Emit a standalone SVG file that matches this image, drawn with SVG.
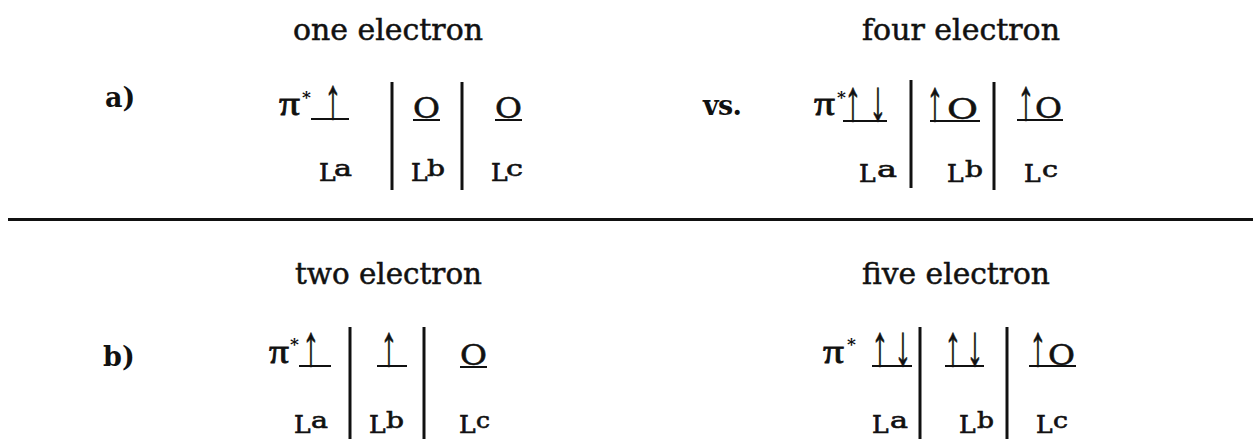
<svg xmlns="http://www.w3.org/2000/svg" width="1253" height="439" viewBox="0 0 1253 439">
<style>
text{font-family:"DejaVu Serif","Liberation Serif",serif;fill:#111}
.t{font-size:29px;stroke:#111;stroke-width:0.5}
.lab{font-size:27px;font-weight:bold}
.pi{font-family:"Liberation Serif","DejaVu Serif",serif;font-size:34px;stroke:#111;stroke-width:0.8}
.st{font-size:17px;font-weight:bold}
.L{font-size:25px;stroke:#111;stroke-width:0.7}
.sup{font-size:22px;stroke:#111;stroke-width:0.6}
.ar{font-family:"Liberation Serif","DejaVu Serif",serif;font-size:34px;text-anchor:middle;stroke:#111;stroke-width:0.4}
.o{font-size:27px;stroke:#111;stroke-width:0.5}
.ul{stroke:#111;stroke-width:2}
.bar{stroke:#111;stroke-width:3}
</style>
<rect width="1253" height="439" fill="#fff"/>
<g id="rule"><line class="bar" x1="8" y1="219.5" x2="1253" y2="219.5"/></g>
<g id="labels">
<text class="lab" x="105" y="107">a)</text>
<text class="lab" x="103" y="366">b)</text>
<text class="lab" x="703" y="115" textLength="39">vs.</text>
</g>
<g id="one-electron">
<text class="t" x="293" y="40" textLength="190" lengthAdjust="spacingAndGlyphs">one electron</text>
<text class="pi" x="279" y="115" textLength="21" lengthAdjust="spacingAndGlyphs">π</text>
<text class="st" x="302" y="103">*</text>
<line class="ul" x1="311" y1="119" x2="349" y2="119"/>
<text class="ar" transform="translate(333,118) scale(1,1.7)">↑</text>
<line class="bar" x1="392" y1="82" x2="392" y2="190"/>
<text class="o" x="413" y="118" textLength="27" lengthAdjust="spacingAndGlyphs">O</text>
<line class="ul" x1="413" y1="120" x2="440" y2="120"/>
<line class="bar" x1="462" y1="82" x2="462" y2="190"/>
<text class="o" x="495" y="118" textLength="27" lengthAdjust="spacingAndGlyphs">O</text>
<line class="ul" x1="495" y1="120" x2="522" y2="120"/>
<text class="L" x="319" y="181">L</text><text class="sup" x="334" y="176" textLength="18" lengthAdjust="spacingAndGlyphs">a</text>
<text class="L" x="411" y="181">L</text><text class="sup" x="427" y="176" textLength="18" lengthAdjust="spacingAndGlyphs">b</text>
<text class="L" x="491" y="181">L</text><text class="sup" x="506" y="176" textLength="17" lengthAdjust="spacingAndGlyphs">c</text>
</g>
<g id="four-electron">
<text class="t" x="862" y="40" textLength="198" lengthAdjust="spacingAndGlyphs">four electron</text>
<text class="pi" x="814" y="115" textLength="21" lengthAdjust="spacingAndGlyphs">π</text>
<text class="st" x="837" y="103">*</text>
<line class="ul" x1="843" y1="121" x2="887" y2="121"/>
<text class="ar" transform="translate(853,120) scale(1,1.7)">↑</text>
<text class="ar" transform="translate(878,120) scale(1,1.7)">↓</text>
<line class="bar" x1="911" y1="80" x2="911" y2="188"/>
<text class="ar" transform="translate(935,120) scale(1,1.7)">↑</text>
<text class="o" x="947" y="119" textLength="31" lengthAdjust="spacingAndGlyphs">O</text>
<line class="ul" x1="930" y1="121" x2="980" y2="121"/>
<line class="bar" x1="994" y1="82" x2="994" y2="190"/>
<text class="ar" transform="translate(1026,119) scale(1,1.7)">↑</text>
<text class="o" x="1035" y="118" textLength="27" lengthAdjust="spacingAndGlyphs">O</text>
<line class="ul" x1="1017" y1="120" x2="1063" y2="120"/>
<text class="L" x="859" y="182">L</text><text class="sup" x="877" y="177" textLength="20" lengthAdjust="spacingAndGlyphs">a</text>
<text class="L" x="947" y="182">L</text><text class="sup" x="965" y="177" textLength="18" lengthAdjust="spacingAndGlyphs">b</text>
<text class="L" x="1024" y="182">L</text><text class="sup" x="1042" y="177" textLength="16" lengthAdjust="spacingAndGlyphs">c</text>
</g>
<g id="two-electron">
<text class="t" x="295" y="284" textLength="187" lengthAdjust="spacingAndGlyphs">two electron</text>
<text class="pi" x="269" y="363" textLength="20" lengthAdjust="spacingAndGlyphs">π</text>
<text class="st" x="290" y="350">*</text>
<line class="ul" x1="299" y1="366" x2="331" y2="366"/>
<text class="ar" transform="translate(311,365) scale(1,1.7)">↑</text>
<line class="bar" x1="350" y1="327" x2="350" y2="439"/>
<text class="ar" transform="translate(389,365) scale(1,1.7)">↑</text>
<line class="ul" x1="377" y1="366" x2="407" y2="366"/>
<line class="bar" x1="424" y1="327" x2="424" y2="439"/>
<text class="o" x="460" y="365" textLength="27" lengthAdjust="spacingAndGlyphs">O</text>
<line class="ul" x1="460" y1="367" x2="487" y2="367"/>
<text class="L" x="294" y="433">L</text><text class="sup" x="311" y="428" textLength="17" lengthAdjust="spacingAndGlyphs">a</text>
<text class="L" x="369" y="433">L</text><text class="sup" x="386" y="428" textLength="18" lengthAdjust="spacingAndGlyphs">b</text>
<text class="L" x="459" y="433">L</text><text class="sup" x="476" y="428" textLength="14" lengthAdjust="spacingAndGlyphs">c</text>
</g>
<g id="five-electron">
<text class="t" x="862" y="284" textLength="188" lengthAdjust="spacingAndGlyphs">five electron</text>
<text class="pi" x="823" y="363" textLength="21" lengthAdjust="spacingAndGlyphs">π</text>
<text class="st" x="847" y="350">*</text>
<line class="ul" x1="872" y1="366" x2="912" y2="366"/>
<text class="ar" transform="translate(880,365) scale(1,1.7)">↑</text>
<text class="ar" transform="translate(903,365) scale(1,1.7)">↓</text>
<line class="bar" x1="920" y1="327" x2="920" y2="439"/>
<text class="ar" transform="translate(953,365) scale(1,1.7)">↑</text>
<text class="ar" transform="translate(975,365) scale(1,1.7)">↓</text>
<line class="ul" x1="945" y1="366" x2="984" y2="366"/>
<line class="bar" x1="1007" y1="327" x2="1007" y2="439"/>
<text class="ar" transform="translate(1038,365) scale(1,1.7)">↑</text>
<text class="o" x="1048" y="365" textLength="27" lengthAdjust="spacingAndGlyphs">O</text>
<line class="ul" x1="1029" y1="366" x2="1076" y2="366"/>
<text class="L" x="872" y="433">L</text><text class="sup" x="890" y="428" textLength="18" lengthAdjust="spacingAndGlyphs">a</text>
<text class="L" x="959" y="433">L</text><text class="sup" x="977" y="428" textLength="17" lengthAdjust="spacingAndGlyphs">b</text>
<text class="L" x="1036" y="433">L</text><text class="sup" x="1053" y="428" textLength="15" lengthAdjust="spacingAndGlyphs">c</text>
</g>
</svg>
